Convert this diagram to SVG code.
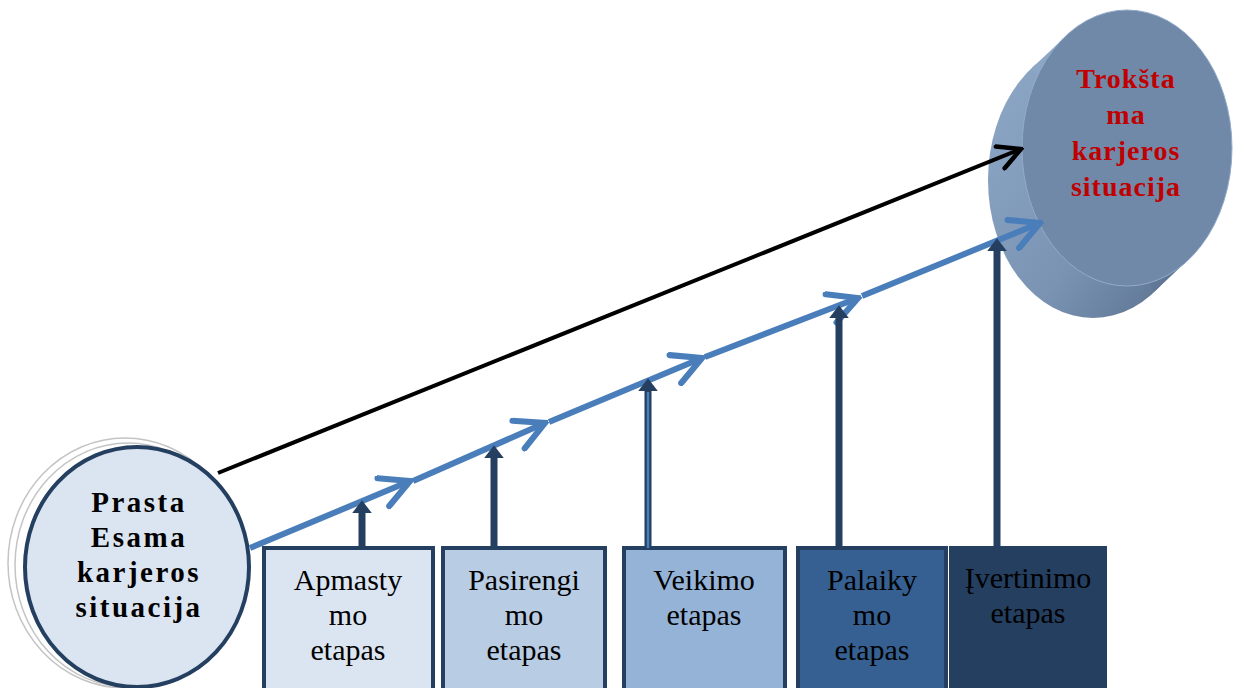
<svg xmlns="http://www.w3.org/2000/svg" width="1234" height="688" viewBox="0 0 1234 688">
<style>
.box{stroke:#243f60;stroke-width:4}
.bt{font-family:"Liberation Serif","Times New Roman",serif;font-size:30px;text-anchor:middle;fill:#000}
.ct{font-family:"Liberation Serif","Times New Roman",serif;font-size:29px;font-weight:bold;letter-spacing:2.5px;text-anchor:middle}
.rt{font-family:"Liberation Serif","Times New Roman",serif;font-size:28px;font-weight:bold;letter-spacing:1px;text-anchor:middle;fill:#c00000}
.blue{stroke:#4a7ebb;stroke-width:6;fill:none}
.up{stroke:#243f60;stroke-width:7;fill:none}
</style>
<defs>
<marker id="chevB" viewBox="0 0 10 10" refX="9" refY="5" markerWidth="36" markerHeight="36" markerUnits="userSpaceOnUse" orient="auto">
<path d="M1,0.8 L9,5 L1,9.2" fill="none" stroke="#4a7ebb" stroke-width="1.7" stroke-linecap="round" stroke-linejoin="miter"/>
</marker>
<marker id="chevK" viewBox="0 0 10 10" refX="9" refY="5" markerWidth="28" markerHeight="28" markerUnits="userSpaceOnUse" orient="auto">
<path d="M1,0.8 L9,5 L1,9.2" fill="none" stroke="#000" stroke-width="1.6" stroke-linecap="round"/>
</marker>
<marker id="tri" viewBox="0 0 10 10" refX="1" refY="5" markerWidth="13" markerHeight="20" markerUnits="userSpaceOnUse" orient="auto" preserveAspectRatio="none">
<path d="M0,0 L10,5 L0,10 Z" fill="#243f60"/>
</marker>
<linearGradient id="side" x1="0" y1="0" x2="1" y2="1">
<stop offset="0" stop-color="#8fa9c8"/>
<stop offset="0.6" stop-color="#7a93b3"/>
<stop offset="1" stop-color="#566d8a"/>
</linearGradient>
</defs>

<g id="node-start">
<ellipse cx="125" cy="563" rx="117" ry="125" fill="none" stroke="#c4c4c4" stroke-width="1.5"/>
<ellipse cx="128" cy="565" rx="113" ry="122" fill="none" stroke="#c4c4c4" stroke-width="1.5"/>
<ellipse cx="137" cy="567" rx="112" ry="120" fill="#dbe5f1" stroke="#243f60" stroke-width="4"/>
<text class="ct" x="139" y="512">Prasta</text>
<text class="ct" x="139" y="547">Esama</text>
<text class="ct" x="139" y="582">karjeros</text>
<text class="ct" x="139" y="617">situacija</text>
</g>

<g id="node-goal">
<ellipse cx="1093" cy="180" rx="105" ry="138" fill="url(#side)"/>
<polygon points="1066,36 1188,260 1154,292 1032,68" fill="url(#side)"/>
<ellipse cx="1127" cy="148" rx="105" ry="138" fill="#7189a8" stroke="#93abc9" stroke-width="1"/>
<text class="rt" x="1126" y="88">Trokšta</text>
<text class="rt" x="1126" y="124">ma</text>
<text class="rt" x="1126" y="160">karjeros</text>
<text class="rt" x="1126" y="196">situacija</text>
</g>

<g id="box1"><rect class="box" x="264" y="548" width="169" height="142" fill="#dbe5f1"/>
<text class="bt" x="348" y="590">Apmasty</text><text class="bt" x="348" y="625">mo</text><text class="bt" x="348" y="660">etapas</text></g>
<g id="box2"><rect class="box" x="443" y="548" width="162" height="142" fill="#b8cce4"/>
<text class="bt" x="524" y="590">Pasirengi</text><text class="bt" x="524" y="625">mo</text><text class="bt" x="524" y="660">etapas</text></g>
<g id="box3"><rect class="box" x="624" y="548" width="161" height="142" fill="#95b3d7"/>
<text class="bt" x="704" y="590">Veikimo</text><text class="bt" x="704" y="625">etapas</text></g>
<g id="box4"><rect class="box" x="798" y="548" width="148" height="142" fill="#366092"/>
<text class="bt" x="872" y="590">Palaiky</text><text class="bt" x="872" y="625">mo</text><text class="bt" x="872" y="660">etapas</text></g>
<g id="box5"><rect class="box" x="951" y="548" width="154" height="142" fill="#243f60"/>
<text class="bt" x="1028" y="588" fill="#ffffff">Įvertinimo</text><text class="bt" x="1028" y="623" fill="#ffffff">etapas</text></g>

<g id="connectors">
<line x1="218" y1="473" x2="1021" y2="149" stroke="#000" stroke-width="4" marker-end="url(#chevK)"/>
<line class="blue" x1="250" y1="548" x2="410" y2="481" marker-end="url(#chevB)"/>
<line class="blue" x1="413" y1="481" x2="545" y2="423" marker-end="url(#chevB)"/>
<line class="blue" x1="549" y1="422" x2="702" y2="358" marker-end="url(#chevB)"/>
<line class="blue" x1="705" y1="357" x2="858" y2="298" marker-end="url(#chevB)"/>
<line class="blue" x1="862" y1="296" x2="1040" y2="223" marker-end="url(#chevB)"/>
<line class="up" x1="362" y1="548" x2="362" y2="512" marker-end="url(#tri)"/>
<line class="up" x1="494" y1="548" x2="494" y2="457" marker-end="url(#tri)"/>
<line class="up" x1="648" y1="548" x2="648" y2="390" stroke-width="10" marker-end="url(#tri)"/>
<line x1="648" y1="548" x2="648" y2="392" stroke="#4a7ebb" stroke-width="2.5"/>
<line class="up" x1="839" y1="548" x2="839" y2="317" marker-end="url(#tri)"/>
<line class="up" x1="997" y1="548" x2="997" y2="250" marker-end="url(#tri)"/>
</g>
</svg>
